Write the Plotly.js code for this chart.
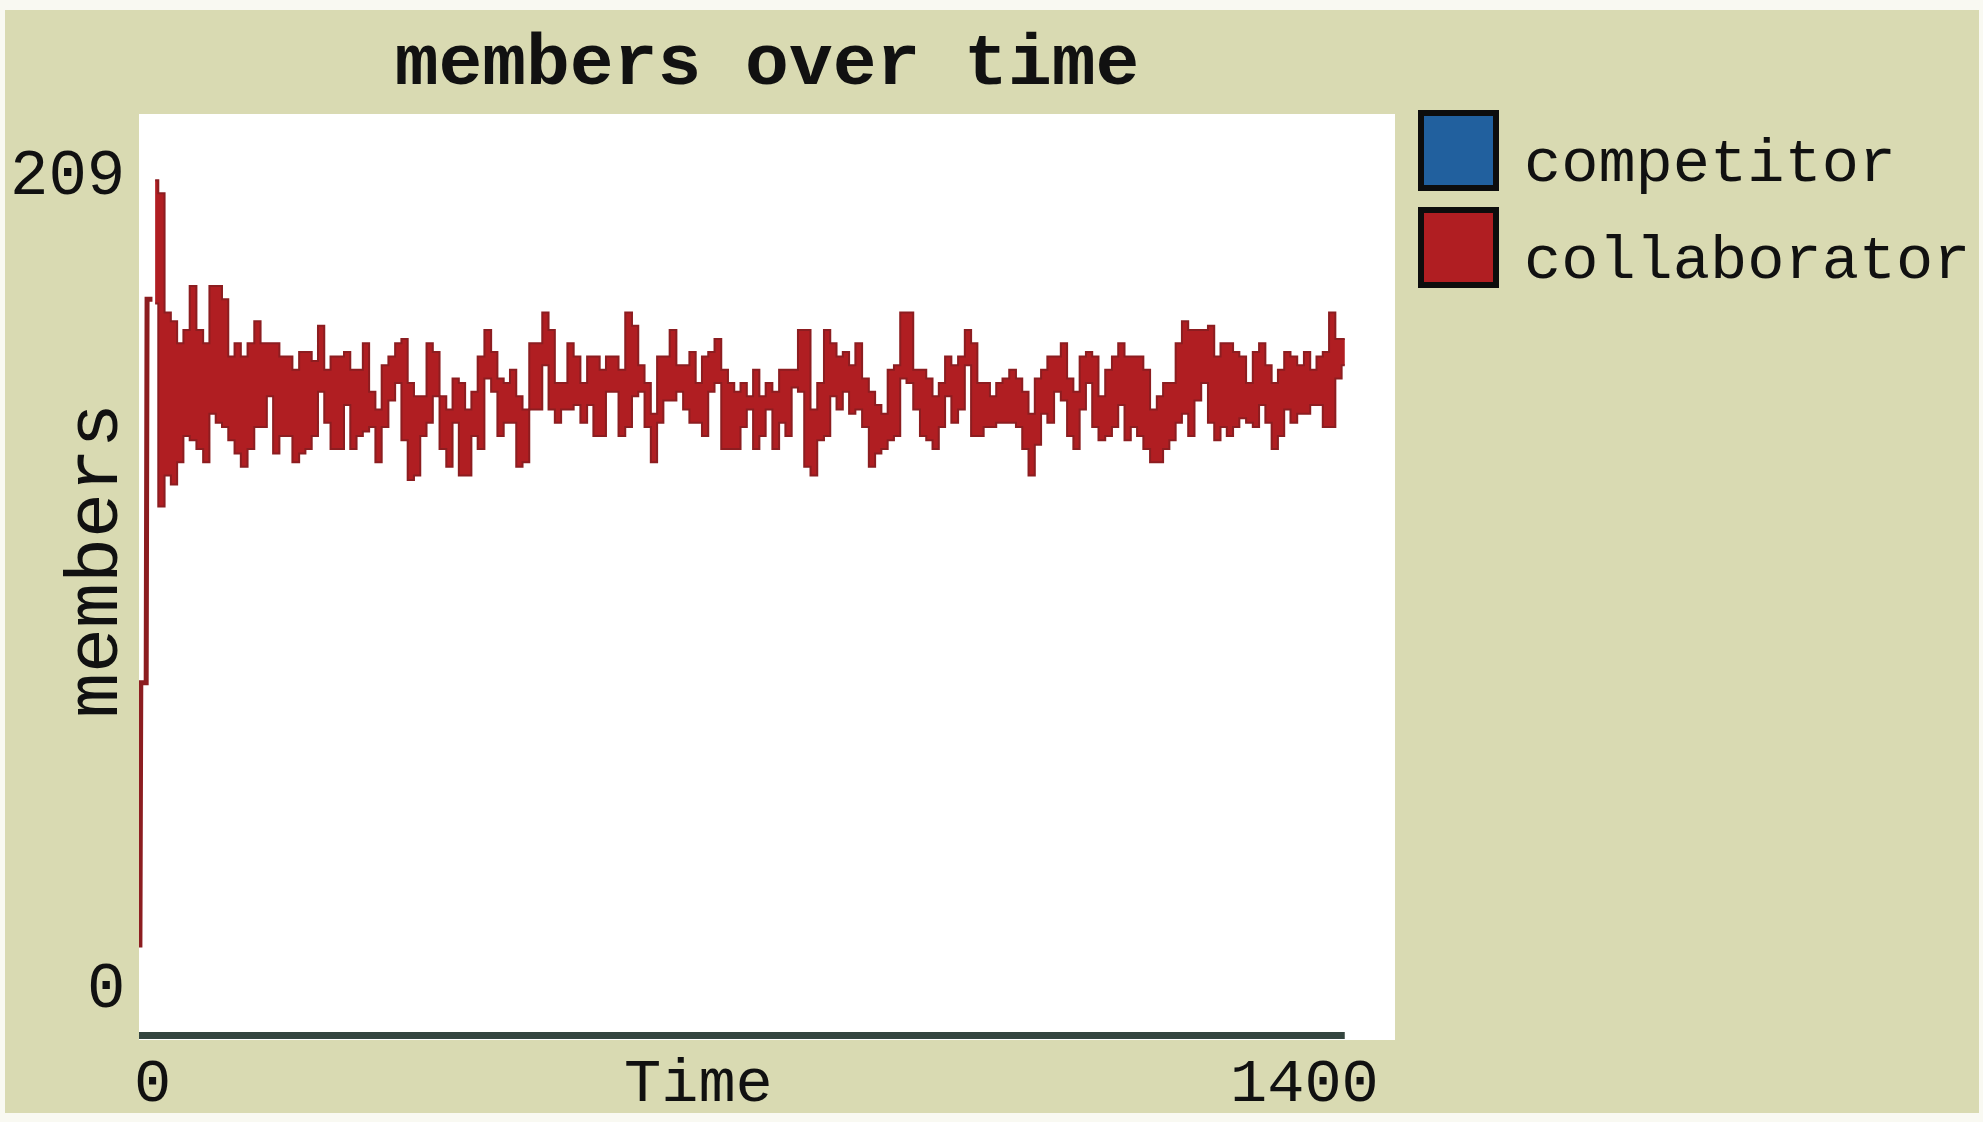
<!DOCTYPE html>
<html>
<head>
<meta charset="utf-8">
<script src="https://cdn.plot.ly/plotly-3.0.1.min.js"></script>
<style>
  html, body { margin: 0; padding: 0; background: #f9f9f2; }
  #chart { position: absolute; left: 5px; top: 10px; width: 1974px; height: 1112px; }
</style>
</head>
<body>
<div id="chart"></div>
<script>
// ---- data ----
const chartTitle = "members over time";
const xTitle = "Time";
const yTitle = "members";
const seriesNames = ["competitor", "collaborator"];
const seriesColors = ["#21609e", "#b01e22"];

const xTickVals = [0, 1400];
const yTickVals = [0, 209];

// competitor stays at zero for the whole run
const competitorTicks = [0, 1344];
const competitorValues = [0, 0];

// collaborator: initial ramp
const rampTicks = [1, 2, 8, 9, 15];
const rampValues = [20, 80, 80, 167, 167];

// collaborator: per-column range of the noisy line (tick, high, low)
const bandTicks = [
  18, 25, 32, 39, 46, 53, 60, 68, 75, 82,
  89, 96, 103, 110, 117, 125, 132, 139, 146, 153,
  160, 167, 175, 182, 189, 196, 203, 210, 217, 225,
  232, 239, 246, 253, 260, 267, 274, 282, 289, 296,
  303, 310, 317, 324, 331, 339, 346, 353, 360, 367,
  374, 381, 389, 396, 403, 410, 417, 424, 431, 439,
  446, 453, 460, 467, 474, 481, 488, 496, 503, 510,
  517, 524, 531, 538, 546, 553, 560, 567, 574, 581,
  588, 595, 603, 610, 617, 624, 631, 638, 645, 653,
  660, 667, 674, 681, 688, 695, 702, 710, 717, 724,
  731, 738, 745, 752, 760, 767, 774, 781, 788, 795,
  802, 810, 817, 824, 831, 838, 845, 852, 859, 867,
  874, 881, 888, 895, 902, 909, 917, 924, 931, 938,
  945, 952, 959, 966, 974, 981, 988, 995, 1002, 1009,
  1016, 1024, 1031, 1038, 1045, 1052, 1059, 1066, 1073, 1081,
  1088, 1095, 1102, 1109, 1116, 1123, 1131, 1138, 1145, 1152,
  1159, 1166, 1173, 1180, 1188, 1195, 1202, 1209, 1216, 1223,
  1230, 1238, 1245, 1252, 1259, 1266, 1273, 1280, 1287, 1295,
  1302, 1309, 1316, 1323, 1330, 1337, 1344
];
const bandHigh = [
  194, 191, 164, 162, 157, 160, 170, 160, 157, 170,
  170, 167, 154, 157, 154, 157, 162, 157, 157, 157,
  154, 154, 151, 155, 155, 153, 161, 151, 154, 154,
  155, 151, 151, 157, 146, 142, 152, 154, 157, 158,
  148, 145, 145, 157, 155, 145, 142, 149, 148, 142,
  146, 154, 160, 155, 149, 148, 151, 145, 142, 157,
  157, 164, 160, 148, 148, 157, 154, 148, 154, 154,
  151, 154, 154, 151, 164, 161, 152, 148, 141, 154,
  154, 160, 152, 152, 155, 148, 154, 155, 158, 151,
  148, 146, 148, 145, 151, 145, 148, 146, 151, 151,
  151, 160, 160, 142, 148, 160, 157, 154, 155, 152,
  157, 149, 146, 143, 141, 151, 152, 164, 164, 151,
  151, 149, 145, 148, 154, 152, 154, 160, 157, 148,
  148, 145, 148, 149, 151, 149, 146, 141, 149, 151,
  154, 154, 157, 149, 146, 154, 155, 154, 145, 151,
  154, 157, 154, 154, 154, 151, 142, 145, 148, 148,
  157, 162, 160, 160, 160, 161, 154, 157, 157, 155,
  154, 148, 155, 157, 152, 148, 151, 155, 154, 152,
  155, 151, 154, 155, 164, 158, 158
];
const bandLow = [
  166, 120, 127, 125, 130, 136, 135, 133, 130, 141,
  139, 138, 135, 132, 129, 133, 138, 138, 145, 132,
  136, 136, 130, 132, 133, 136, 146, 139, 133, 133,
  143, 133, 136, 137, 138, 130, 138, 144, 148, 135,
  126, 127, 136, 139, 145, 133, 129, 139, 127, 127,
  136, 133, 149, 146, 136, 139, 139, 129, 130, 142,
  142, 152, 142, 139, 142, 142, 143, 139, 143, 136,
  136, 146, 146, 136, 138, 145, 146, 138, 130, 139,
  144, 144, 146, 142, 139, 139, 136, 146, 148, 133,
  133, 133, 138, 142, 133, 136, 142, 133, 139, 136,
  147, 146, 129, 127, 135, 136, 145, 142, 146, 141,
  142, 138, 129, 132, 133, 135, 136, 149, 148, 142,
  136, 135, 133, 138, 145, 139, 142, 152, 136, 136,
  138, 138, 139, 139, 139, 138, 133, 127, 134, 141,
  139, 146, 144, 136, 133, 142, 148, 138, 135, 136,
  138, 143, 135, 138, 136, 133, 130, 130, 133, 135,
  139, 141, 136, 144, 148, 139, 135, 138, 136, 138,
  140, 139, 138, 143, 139, 133, 136, 142, 139, 141,
  141, 143, 143, 138, 138, 149, 152
];

// ---- layout geometry (div pixels) ----
const W = 1974, H = 1112;
const M = { l: 134, r: 584, t: 104, b: 82 };
const PW = W - M.l - M.r, PH = H - M.t - M.b;
const px2x = (px) => (px - M.l) / PW;        // div px -> paper x
const py2y = (py) => (H - M.b - py) / PH;    // div px -> paper y

const FONT = '"Liberation Mono", "DejaVu Sans Mono", monospace';
const INK = '#111111';
const RED = seriesColors[1];
const RED_EDGE = '#8c1d20';

const traces = [
  { // competitor, flat at zero
    x: competitorTicks, y: competitorValues, name: seriesNames[0],
    mode: 'lines', line: { color: '#34453f', width: 7 }, showlegend: false,
    hoverinfo: 'skip'
  },
  { // collaborator start-up
    x: rampTicks, y: rampValues, name: seriesNames[1] + ' (start)',
    mode: 'lines', line: { color: RED_EDGE, width: 5 }, showlegend: false,
    hoverinfo: 'skip'
  },
  { // collaborator: lower edge of the per-tick swing
    x: bandTicks, y: bandLow, name: seriesNames[1] + ' low',
    mode: 'lines', line: { color: RED_EDGE, width: 2, shape: 'hvh' }, showlegend: false,
    hoverinfo: 'skip'
  },
  { // collaborator: upper edge, filled down to the lower edge
    x: bandTicks, y: bandHigh, name: seriesNames[1],
    mode: 'lines', line: { color: RED_EDGE, width: 2, shape: 'hvh' },
    fill: 'tonexty', fillcolor: RED, showlegend: false,
    hoverinfo: 'skip'
  }
];

const annotations = [];
const shapes = [];

// pale outer strip along the bottom edge
shapes.push({ type: 'rect', xref: 'paper', yref: 'paper', layer: 'below',
  x0: px2x(-5), x1: px2x(W + 5), y0: py2y(H + 2), y1: py2y(H - 9),
  fillcolor: '#f9f9f2', line: { width: 0 } });

// tick labels (NetLogo style: min/max at the plot corners)
annotations.push({ xref: 'paper', yref: 'y', x: 0, y: yTickVals[1], text: String(yTickVals[1]),
  xanchor: 'right', yanchor: 'middle', xshift: -12, yshift: -63, showarrow: false,
  font: { family: FONT, size: 64, color: INK } });
annotations.push({ xref: 'paper', yref: 'y', x: 0, y: yTickVals[0], text: String(yTickVals[0]),
  xanchor: 'right', yanchor: 'middle', xshift: -12, yshift: 46, showarrow: false,
  font: { family: FONT, size: 64, color: INK } });
annotations.push({ xref: 'x', yref: 'paper', x: xTickVals[0], y: 0, text: String(xTickVals[0]),
  xanchor: 'center', yanchor: 'middle', xshift: 13, yshift: -44, showarrow: false,
  font: { family: FONT, size: 62, color: INK } });
annotations.push({ xref: 'x', yref: 'paper', x: xTickVals[1], y: 0, text: String(xTickVals[1]),
  xanchor: 'center', yanchor: 'middle', xshift: -91, yshift: -44, showarrow: false,
  font: { family: FONT, size: 62, color: INK } });
// axis labels
annotations.push({ xref: 'paper', yref: 'paper', x: px2x(693), y: 0, text: xTitle,
  xanchor: 'center', yanchor: 'middle', yshift: -44, showarrow: false,
  font: { family: FONT, size: 62, color: INK } });
annotations.push({ xref: 'paper', yref: 'paper', x: px2x(92), y: py2y(551), text: yTitle,
  textangle: -90, xanchor: 'center', yanchor: 'middle', showarrow: false,
  font: { family: FONT, size: 75, color: INK } });

// legend (drawn as squares with names)
const legTop = 103, legStep = 97, legSize = 75, legLeft = 1416, legTextLeft = 1517;
seriesNames.forEach((name, i) => {
  const y0 = legTop + i * legStep;
  shapes.push({ type: 'rect', xref: 'paper', yref: 'paper',
    x0: px2x(legLeft), x1: px2x(legLeft + legSize),
    y0: py2y(y0 + legSize), y1: py2y(y0),
    fillcolor: seriesColors[i], line: { color: '#0d0d0d', width: 6 } });
  annotations.push({ xref: 'paper', yref: 'paper', x: px2x(legTextLeft), y: py2y(y0 + legSize / 2 + 14),
    text: name, xanchor: 'left', yanchor: 'middle', showarrow: false,
    font: { family: FONT, size: 62, color: INK } });
});

const layout = {
  width: W, height: H,
  margin: M,
  paper_bgcolor: '#d9dab2',
  plot_bgcolor: '#ffffff',
  showlegend: false,
  title: { text: '<b>' + chartTitle + '</b>', xref: 'paper', x: 0.5, xanchor: 'center',
    yref: 'container', y: 1 - 48 / H, yanchor: 'middle',
    font: { family: FONT, size: 73, color: INK } },
  xaxis: { range: [0, 1400], showgrid: false, zeroline: false, showline: false,
    showticklabels: false, ticks: '', tickvals: xTickVals, fixedrange: true },
  yaxis: { range: [-1, 209], showgrid: false, zeroline: false, showline: false,
    showticklabels: false, ticks: '', tickvals: yTickVals, fixedrange: true },
  annotations: annotations,
  shapes: shapes
};

Plotly.newPlot('chart', traces, layout, { staticPlot: true, displayModeBar: false });
</script>
</body>
</html>
